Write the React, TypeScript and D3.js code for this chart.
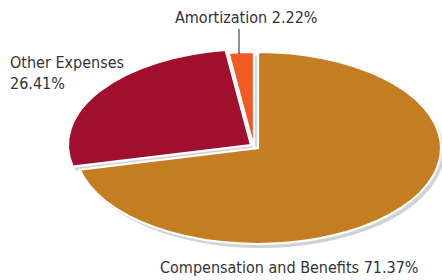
import React from "react";
import * as d3 from "d3";

const categories = ["Compensation and Benefits", "Other Expenses", "Amortization"];
const values = [71.37, 26.41, 2.22];
const colors = ["#C47D21", "#A00F2D", "#F15A24"];

const W = 442;
const H = 280;
const cx = 258;
const cy = 148;
const rx = 183;
const ry = 96;
// how far each slice is pulled out (px, screen space)
const pull: [number, number][] = [
  [0, 0],
  [-7, -3],
  [-4, 0],
];

export default function App() {
  const pie = d3.pie<number>().sort(null).value((d) => d);
  const arcs = pie(values);
  const arc = d3.arc<d3.PieArcDatum<number>>().innerRadius(0).outerRadius(rx);
  const sy = ry / rx;

  const font = "'Liberation Sans Narrow', 'DejaVu Sans Condensed', 'Roboto', sans-serif";

  const slices = (shadow: boolean) =>
    arcs.map((a, i) => (
      <g key={(shadow ? "s" : "p") + i} transform={`translate(${pull[i][0]},${pull[i][1]})`}>
        <path
          d={arc(a) || ""}
          transform={`scale(1,${sy})`}
          fill={shadow ? "#D2D2D2" : colors[i]}
          stroke={shadow ? "none" : "#fff"}
          strokeWidth={2.2}
          vectorEffect="non-scaling-stroke"
        />
      </g>
    ));

  return (
    <svg
      width={W}
      height={H}
      style={{ position: "absolute", left: 0, top: 0, background: "#fff" }}
    >
      <g transform={`translate(${cx + 3},${cy + 4})`}>{slices(true)}</g>
      <g transform={`translate(${cx},${cy})`}>{slices(false)}</g>
      <line x1={239} y1={29} x2={239} y2={54} stroke="#222" strokeWidth={1} />
      <g fontFamily={font} fontSize={16} fill="#333">
        <text x={175} y={23}>{`${categories[2]} ${values[2].toFixed(2)}%`}</text>
        <text x={10} y={68}>{categories[1]}</text>
        <text x={10} y={89}>{`${values[1].toFixed(2)}%`}</text>
        <text x={160} y={273}>{`${categories[0]} ${values[0].toFixed(2)}%`}</text>
      </g>
    </svg>
  );
}
